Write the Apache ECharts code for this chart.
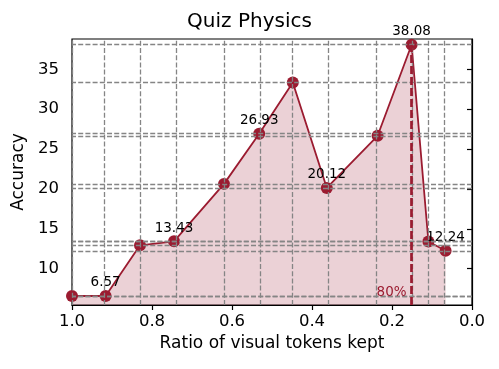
<!DOCTYPE html>
<html>
<head>
<meta charset="utf-8">
<script src="https://cdn.jsdelivr.net/npm/echarts@6/dist/echarts.min.js"></script>
<style>
  html, body { margin: 0; padding: 0; background: #fff; }
  #chart { width: 499px; height: 369px; }
</style>
</head>
<body>
<div id="chart"></div>
<script>
// Accuracy vs. ratio of visual tokens kept (Quiz Physics)
const ratios = [1.0, 0.916, 0.83, 0.745, 0.62, 0.532, 0.448, 0.363, 0.236, 0.151, 0.109, 0.066]
const accuracy = [6.57, 6.57, 12.93, 13.43, 20.63, 26.93, 33.35, 20.12, 26.66, 38.08, 13.4, 12.24]
const labeled = [1, 3, 5, 7, 9, 11] // points that show their value
const yTicks = [10, 15, 20, 25, 30, 35]
const cutoffRatio = 0.151
const cutoffLabel = '80%'

const Y_MIN = 5.44
const Y_MAX = 38.8
const RED = '#9b1b30'
const FONT = 'DejaVu Sans'

const chart = echarts.init(document.getElementById('chart'), null, { renderer: 'canvas' })

const points = ratios.map((r, i) => ({
  value: [r, accuracy[i]],
  label: { show: labeled.includes(i) },
}))

const gridStyle = { color: '#858585', type: [5, 2.2], width: 1.3 }

chart.setOption({
  animation: false,
  backgroundColor: '#fff',
  title: {
    text: 'Quiz Physics',
    left: 'center',
    top: 7,
    textStyle: { fontFamily: FONT, fontSize: 20, fontWeight: 'normal', color: '#000' },
  },
  grid: {
    left: 72, right: 27, top: 39, bottom: 64,
    show: true, borderColor: '#000', borderWidth: 1.2, backgroundColor: 'transparent',
  },
  xAxis: {
    type: 'value',
    min: 0, max: 1, interval: 0.2,
    inverse: true,
    name: 'Ratio of visual tokens kept',
    nameLocation: 'middle',
    nameGap: 30,
    nameTextStyle: { fontFamily: FONT, fontSize: 17, color: '#000' },
    axisLine: { show: true, onZero: false, lineStyle: { color: '#000', width: 1.2 } },
    axisTick: { show: true, length: 5, lineStyle: { color: '#000', width: 1.2 } },
    axisLabel: {
      fontFamily: FONT, fontSize: 16.5, color: '#000', margin: 8,
      formatter: (v) => v.toFixed(1),
    },
    splitLine: { show: false },
  },
  yAxis: {
    type: 'value',
    min: Y_MIN, max: Y_MAX,
    name: 'Accuracy',
    nameLocation: 'middle',
    nameGap: 39,
    nameTextStyle: { fontFamily: FONT, fontSize: 17, color: '#000' },
    axisLine: { show: true, lineStyle: { color: '#000', width: 1.2 } },
    axisTick: { show: true, length: 5, customValues: yTicks, lineStyle: { color: '#000', width: 1.2 } },
    axisLabel: { fontFamily: FONT, fontSize: 16.5, color: '#000', margin: 13, customValues: yTicks },
    splitLine: { show: false },
  },
  series: [
    {
      type: 'line',
      data: points,
      symbol: 'circle',
      symbolSize: 12,
      itemStyle: { color: RED },
      lineStyle: { color: RED, width: 1.8 },
      areaStyle: { color: RED, opacity: 0.2 },
      label: {
        position: 'top',
        distance: 0,
        fontFamily: FONT,
        fontSize: 13.5,
        color: '#000',
        formatter: (p) => p.value[1].toFixed(2),
      },
      markLine: {
        silent: true,
        symbol: 'none',
        label: { show: false },
        lineStyle: gridStyle,
        data: [
          ...ratios.map((r) => ({ xAxis: r })),
          ...accuracy.map((a) => ({ yAxis: a })),
          [
            { coord: [cutoffRatio, Y_MIN], lineStyle: { color: RED, type: [8, 3], width: 2.7 } },
            { coord: [cutoffRatio, accuracy[ratios.indexOf(cutoffRatio)]] },
          ],
        ],
      },
      markPoint: {
        silent: true,
        symbol: 'rect',
        symbolSize: 1,
        itemStyle: { color: 'rgba(0,0,0,0)' },
        data: [{ coord: [cutoffRatio, Y_MIN] }],
        label: {
          show: true,
          position: 'inside',
          formatter: cutoffLabel,
          offset: [-20, -13],
          fontFamily: FONT,
          fontSize: 13.5,
          color: RED,
        },
      },
    },
  ],
})
</script>
</body>
</html>
